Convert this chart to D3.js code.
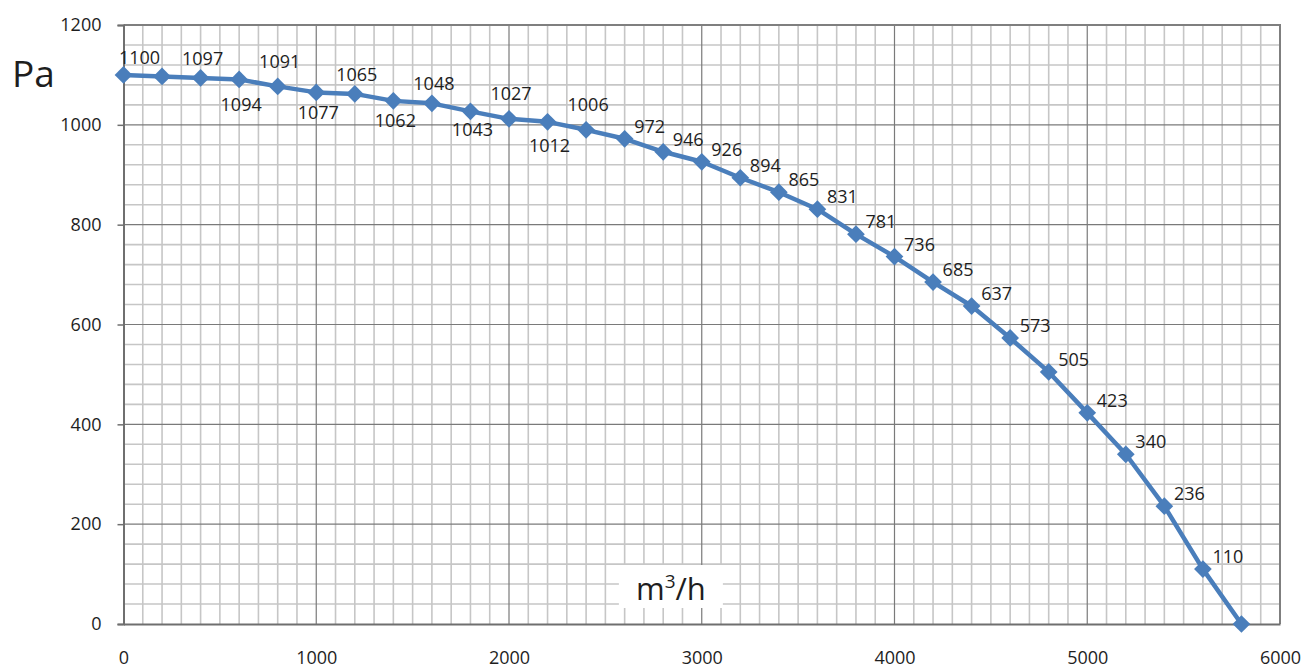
<!DOCTYPE html>
<html><head><meta charset="utf-8">
<script src="https://cdn.jsdelivr.net/npm/d3@7"></script>
<style>
html,body{margin:0;padding:0;background:#fff;}
svg{display:block;font-family:"Open Sans",sans-serif;}
</style></head>
<body><svg id="c" width="1304" height="668"></svg>
<script>
// Airflow (m3/h) and pressure (Pa)
const flow = [0,200,400,600,800,1000,1200,1400,1600,1800,2000,2200,2400,2600,2800,3000,3200,3400,3600,3800,4000,4200,4400,4600,4800,5000,5200,5400,5600,5800];
const pressure = [1100,1097,1094,1091,1077,1065,1062,1048,1043,1027,1012,1006,990,972,946,926,894,865,831,781,736,685,637,573,505,423,340,236,110,0];
const showLabel = [1,1,1,1,1,1,1,1,1,1,1,1,0,1,1,1,1,1,1,1,1,1,1,1,1,1,1,1,1,0];
const xTicks = [0,1000,2000,3000,4000,5000,6000];
const yTicks = [0,200,400,600,800,1000,1200];
const yLabel = "Pa";
const xLabel = "m³/h";

const svg = d3.select("#c");
const L = 123.5, R = 1280, T = 25, B = 624;
const x = d3.scaleLinear().domain([0,6000]).range([L,R]);
const y = d3.scaleLinear().domain([0,1200]).range([B,T]);
const fmt = d3.format("d");

// minor grid
const g = svg.append("g");
g.selectAll(".vx").data(d3.range(100,6000,100).filter(v=>v%1000)).join("line")
  .attr("x1",d=>x(d)).attr("x2",d=>x(d)).attr("y1",T).attr("y2",B)
  .attr("stroke","#c6c6c6").attr("stroke-width",1.6);
g.selectAll(".hy").data(d3.range(40,1200,40).filter(v=>v%200)).join("line")
  .attr("x1",L).attr("x2",R).attr("y1",d=>y(d)).attr("y2",d=>y(d))
  .attr("stroke","#c6c6c6").attr("stroke-width",1.6);
// major grid
g.selectAll(".mx").data(xTicks.slice(1,-1)).join("line")
  .attr("x1",d=>x(d)).attr("x2",d=>x(d)).attr("y1",T).attr("y2",B)
  .attr("stroke","#7a7a7a").attr("stroke-width",1.2);
g.selectAll(".my").data(yTicks.slice(1,-1)).join("line")
  .attr("x1",L).attr("x2",R).attr("y1",d=>y(d)).attr("y2",d=>y(d))
  .attr("stroke","#7a7a7a").attr("stroke-width",1.2);
// border top/right
svg.append("path").attr("d",`M${L},${T}H${R}V${B}`).attr("fill","none")
  .attr("stroke","#7f7f7f").attr("stroke-width",2);

// axes
const ya = svg.append("g").attr("transform",`translate(${L},0)`)
  .call(d3.axisLeft(y).tickValues(yTicks).tickFormat(fmt).tickSize(6).tickPadding(16));
ya.select(".domain").attr("stroke","#6f6f6f").attr("stroke-width",2);
ya.selectAll(".tick line").attr("stroke","#6f6f6f").attr("stroke-width",1.5);
ya.selectAll("text").attr("font-size",18).attr("fill","#1e1e1e").attr("font-family","Open Sans");

const xa = svg.append("g").attr("transform",`translate(0,${B})`)
  .call(d3.axisBottom(x).tickValues(xTicks).tickFormat(fmt).tickSize(0).tickPadding(27));
xa.select(".domain").attr("stroke","#6f6f6f").attr("stroke-width",2);
xa.selectAll("text").attr("font-size",18).attr("fill","#1e1e1e").attr("font-family","Open Sans");

// axis titles
svg.append("text").attr("x",12).attr("y",87).attr("font-size",37).attr("fill","#1e1e1e").text(yLabel);
const xl = svg.append("g");
xl.append("rect").attr("x",x(2570)).attr("y",565).attr("width",104).attr("height",43).attr("fill","#fff");
const xt = xl.append("text").attr("x",x(2840)).attr("y",600).attr("text-anchor","middle").attr("font-size",31).attr("fill","#1e1e1e");
xt.append("tspan").text("m");
xt.append("tspan").attr("font-size",19).attr("dy",-12).text("3");
xt.append("tspan").attr("dy",12).text("/h");

// line
const pts = flow.map((f,i)=>({f, p:pressure[i], i}));
svg.append("path").datum(pts)
  .attr("d", d3.line().x(d=>x(d.f)).y(d=>y(d.p)))
  .attr("fill","none").attr("stroke","#4a7ebb").attr("stroke-width",4.5).attr("stroke-linejoin","round");
svg.selectAll(".mk").data(pts).join("path")
  .attr("transform",d=>`translate(${x(d.f)},${y(d.p)})`)
  .attr("d", d3.symbol().type(d3.symbolDiamond2).size(200))
  .attr("fill","#4a7ebb");

// data labels
const step = x(200)-x(0);
function labelPos(d){
  if(d.i===0) return [16,-18];
  if(d.i<12) return [step+2, d.i%2===1 ? -18 : 26];
  return [25,-13];
}
svg.selectAll(".lb").data(pts.filter(d=>showLabel[d.i])).join("text")
  .attr("x",d=>x(d.f)+labelPos(d)[0]).attr("y",d=>y(d.p)+labelPos(d)[1])
  .attr("text-anchor","middle").attr("dominant-baseline","central")
  .attr("font-size",18).attr("fill","#1e1e1e").text(d=>d.p);
</script></body></html>
